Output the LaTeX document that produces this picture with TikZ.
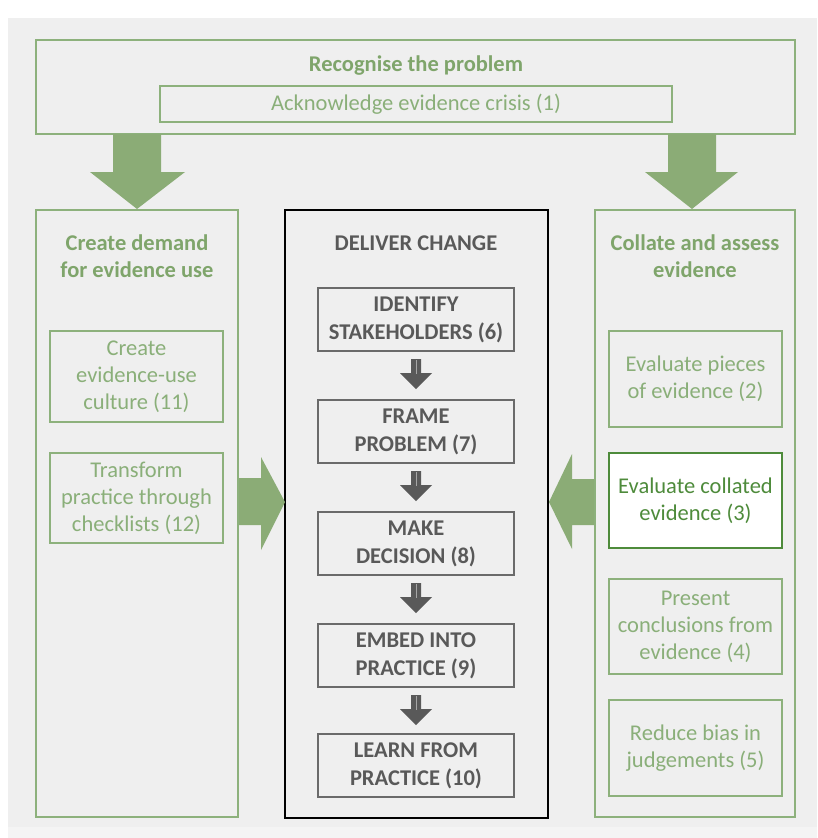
\documentclass[tikz,border=0pt]{standalone}
\usepackage{fontspec}
\setmainfont{Carlito}
\usetikzlibrary{calc}
\definecolor{bgc}{HTML}{EFEFEF}
\definecolor{bgl}{HTML}{F4F4F4}
\definecolor{gline}{HTML}{8DB17C}
\definecolor{gtext}{HTML}{8AAF79}
\definecolor{gtitle}{HTML}{7FA56B}
\definecolor{garrow}{HTML}{8BAC76}
\definecolor{dkgreen}{HTML}{4E8B3B}
\definecolor{dgray}{HTML}{595959}
\definecolor{bgray}{HTML}{6A6A6A}
\begin{document}
\begin{tikzpicture}[x=1pt,y=-1pt,
  gbox/.style={draw=gline, line width=2, inner sep=0pt, align=center, text=gtext,
    font=\fontsize{22.5}{27}\selectfont},
  colbox/.style={draw=gline, line width=2, inner sep=0pt},
  gtitlestyle/.style={inner sep=0pt, align=center, text=gtitle,
    font=\fontsize{22.5}{27}\selectfont\bfseries},
  cbox/.style={draw=bgray, line width=2, inner sep=0pt, align=center, text=dgray,
    minimum width=196, minimum height=63, font=\fontsize{22.5}{28}\selectfont\bfseries},
  hibox/.style={draw=dkgreen, fill=white, line width=2, inner sep=0pt, align=center,
    text=dkgreen, font=\fontsize{22.5}{27}\selectfont},
  bigarrow/.style={fill=garrow},
  smallarrow/.style={fill=dgray}
]
\useasboundingbox (0,0) rectangle (817,838);
\fill[white] (0,0) rectangle (817,838);
\fill[bgc] (8,18) rectangle (817,827);
\fill[bgl] (8,827) rectangle (817,838);

% top box
\node[colbox, minimum width=759, minimum height=94] (top) at (415.5,87) {};
\node[gtitlestyle] (toptitle) at (416,66) {Recognise the problem};
\node[gbox, minimum width=512, minimum height=36] (ack) at (416,104) {Acknowledge evidence crisis (1)};

% columns
\node[colbox, minimum width=202, minimum height=607] (lcol) at (137,513.5) {};
\node[draw=black, line width=2.5, inner sep=0pt, minimum width=263, minimum height=608] (ccol) at (416.5,514) {};
\node[colbox, minimum width=200, minimum height=607] (rcol) at (695,513.5) {};

% column titles
\node[gtitlestyle] (ltitle) at (137,256.5) {Create demand\\for evidence use};
\node[inner sep=0pt, text=dgray, font=\fontsize{22.5}{27}\selectfont\bfseries] (ctitle) at (416,243) {DELIVER CHANGE};
\node[gtitlestyle] (rtitle) at (695,256.5) {Collate and assess\\evidence};

% left inner boxes
\node[gbox, minimum width=173, minimum height=91] (e11) at (136.5,376.5) {Create\\evidence-use\\culture (11)};
\node[gbox, minimum width=173, minimum height=90] (e12) at (136.5,498) {Transform\\practice through\\checklists (12)};

% right inner boxes
\node[gbox, minimum width=173, minimum height=96] (e2) at (695.5,379) {Evaluate pieces\\of evidence (2)};
\node[hibox, minimum width=173, minimum height=95] (e3) at (695.5,500.5) {Evaluate collated\\evidence (3)};
\node[gbox, minimum width=173, minimum height=95] (e4) at (695.5,626.5) {Present\\conclusions from\\evidence (4)};
\node[gbox, minimum width=173, minimum height=96] (e5) at (695.5,748) {Reduce bias in\\judgements (5)};

% centre boxes
\node[cbox] (b6) at (416,319.5) {IDENTIFY\\STAKEHOLDERS (6)};
\node[cbox] (b7) at (416,431.5) {FRAME\\PROBLEM (7)};
\node[cbox] (b8) at (416,543.5) {MAKE\\DECISION (8)};
\node[cbox] (b9) at (416,655.5) {EMBED INTO\\PRACTICE (9)};
\node[cbox] (b10) at (416,765.5) {LEARN FROM\\PRACTICE (10)};

% small arrows between centre boxes
\foreach \a in {b6,b7,b8,b9}{
  \fill[smallarrow] ($(\a.south)+(-5,7)$) -- ($(\a.south)+(5,7)$) -- ($(\a.south)+(5,21)$)
    -- ($(\a.south)+(16,21)$) -- ($(\a.south)+(0,37)$) -- ($(\a.south)+(-16,21)$)
    -- ($(\a.south)+(-5,21)$) -- cycle;
  \draw[gray!70, line width=0.8] ($(\a.south)+(0,8)$) -- ($(\a.south)+(0,22)$);
}

% big down arrows from top box
\coordinate (la) at (137,134);
\coordinate (ra) at (692,134);
\fill[bigarrow] ($(la)+(-24,0)$) -- ($(la)+(24,0)$) -- ($(la)+(24,38)$) -- ($(la)+(48,38)$)
  -- ($(la)+(0,75)$) -- ($(la)+(-47,38)$) -- ($(la)+(-24,38)$) -- cycle;
\fill[bigarrow] ($(ra)+(-24,0)$) -- ($(ra)+(24,0)$) -- ($(ra)+(24,38)$) -- ($(ra)+(46,38)$)
  -- ($(ra)+(0,75)$) -- ($(ra)+(-47,38)$) -- ($(ra)+(-24,38)$) -- cycle;

% side arrows into centre
\coordinate (lsa) at (lcol.east |- 0,502);
\coordinate (rsa) at (rcol.west |- 0,502);
\fill[bigarrow] ($(lsa)+(0,-24)$) -- ($(lsa)+(22,-24)$) -- ($(lsa)+(22,-45)$) -- ($(lsa)+(46,0)$)
  -- ($(lsa)+(22,48)$) -- ($(lsa)+(22,23)$) -- ($(lsa)+(0,23)$) -- cycle;
\fill[bigarrow] ($(rsa)+(0,-23)$) -- ($(rsa)+(-22,-23)$) -- ($(rsa)+(-22,-48)$) -- ($(rsa)+(-45,0)$)
  -- ($(rsa)+(-22,47)$) -- ($(rsa)+(-22,23)$) -- ($(rsa)+(0,23)$) -- cycle;
\end{tikzpicture}
\end{document}
